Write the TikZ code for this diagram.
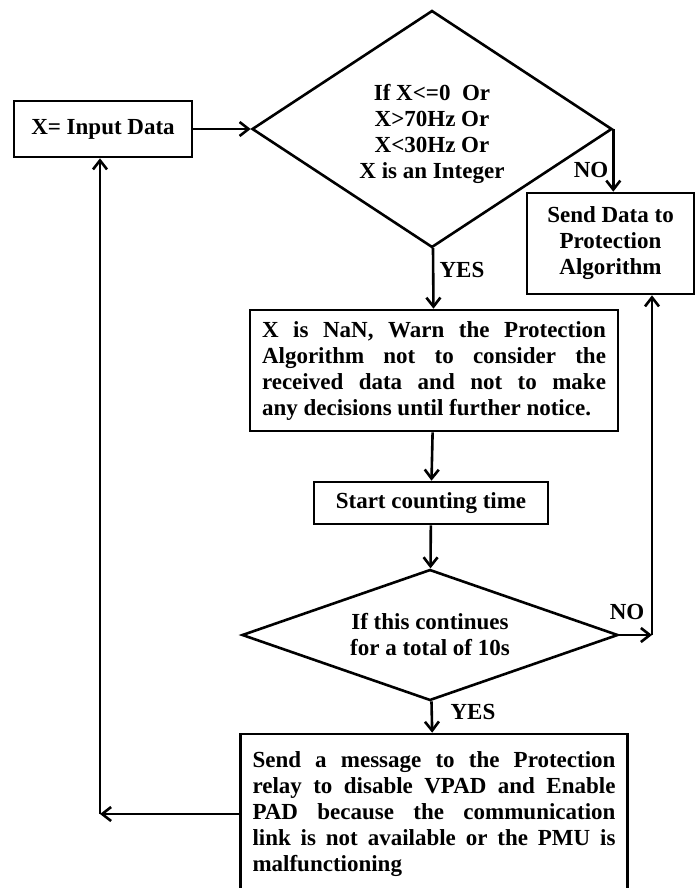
\documentclass[tikz,border=0pt]{standalone}
\usepackage{fontspec}
\setmainfont{Liberation Serif}
\usetikzlibrary{arrows.meta,shapes.geometric}

\begin{document}
\begin{tikzpicture}[x=1pt,y=-1pt,line width=2.6pt,
 >={Straight Barb[length=9pt,width=14pt]},
 every node/.style={font=\fontsize{23}{26}\selectfont\bfseries},
 blk/.style={draw,inner sep=0pt},
 txtbox/.style={draw,align=justify,inner xsep=12pt,inner ysep=0pt,
  font={\fontsize{23}{26}\selectfont\bfseries\hyphenpenalty 10000 \exhyphenpenalty 10000 }},
 dec/.style={draw,diamond,inner sep=0pt,align=center},
 lbl/.style={inner sep=0pt}]
 \useasboundingbox (0,0) rectangle (695,888);
 \node[blk,minimum width=178pt,minimum height=56pt] (inp) at (103,129) {X= Input Data};
 \node[dec,aspect=1.52,minimum width=360pt,minimum height=237pt] (q1) at (432,129)
  {\rule{0pt}{26pt}If X<=0~ Or\\X>70Hz Or\\X<30Hz Or\\X is an Integer};
 \node[blk,align=center,minimum width=167pt,minimum height=101pt] (send) at (610.5,243.5)
  {Send Data to\\Protection\\Algorithm};
 \node[txtbox,text width=344pt,minimum height=121pt] (nan) at (434,370.5)
  {X is NaN, Warn the Protection\linebreak Algorithm not to consider the\linebreak received data and not to make\linebreak any decisions until further notice.};
 \node[blk,minimum width=234pt,minimum height=42pt] (cnt) at (431,503) {Start counting time};
 \node[dec,aspect=2.87,minimum width=376pt,minimum height=131pt] (q2) at (430,635)
  {If this continues\\for a total of 10s};
 \node[txtbox,text width=363pt,minimum height=160pt] (msg) at (434,814)
  {Send a message to the Protection\linebreak relay to disable VPAD and Enable\linebreak PAD because the communication\linebreak link is not available or the PMU is\linebreak malfunctioning};
 \coordinate (r) at (652,635);
 \coordinate (l) at (100,814);
 \draw[->] (inp) -- (q1);
 \draw[->] (q1.east) -- (q1.east |- send.north);
 \draw[->] (q1) -- (nan);
 \draw[->] (nan) -- (cnt);
 \draw[->] (cnt) -- (q2);
 \draw[->] (q2) -- (msg);
 \draw[->] (q2.east) -- (r);
 \draw[->] (r) -- (r |- send.south);
 \draw[->] (msg.west) -- (l);
 \draw[->] (l) -- (l |- inp.south);
 \node[lbl] (no1) at (591,170) {NO};
 \node[lbl] (yes1) at (462,270) {YES};
 \node[lbl] (no2) at (627,612) {NO};
 \node[lbl] (yes2) at (473,712) {YES};
\end{tikzpicture}
\end{document}
